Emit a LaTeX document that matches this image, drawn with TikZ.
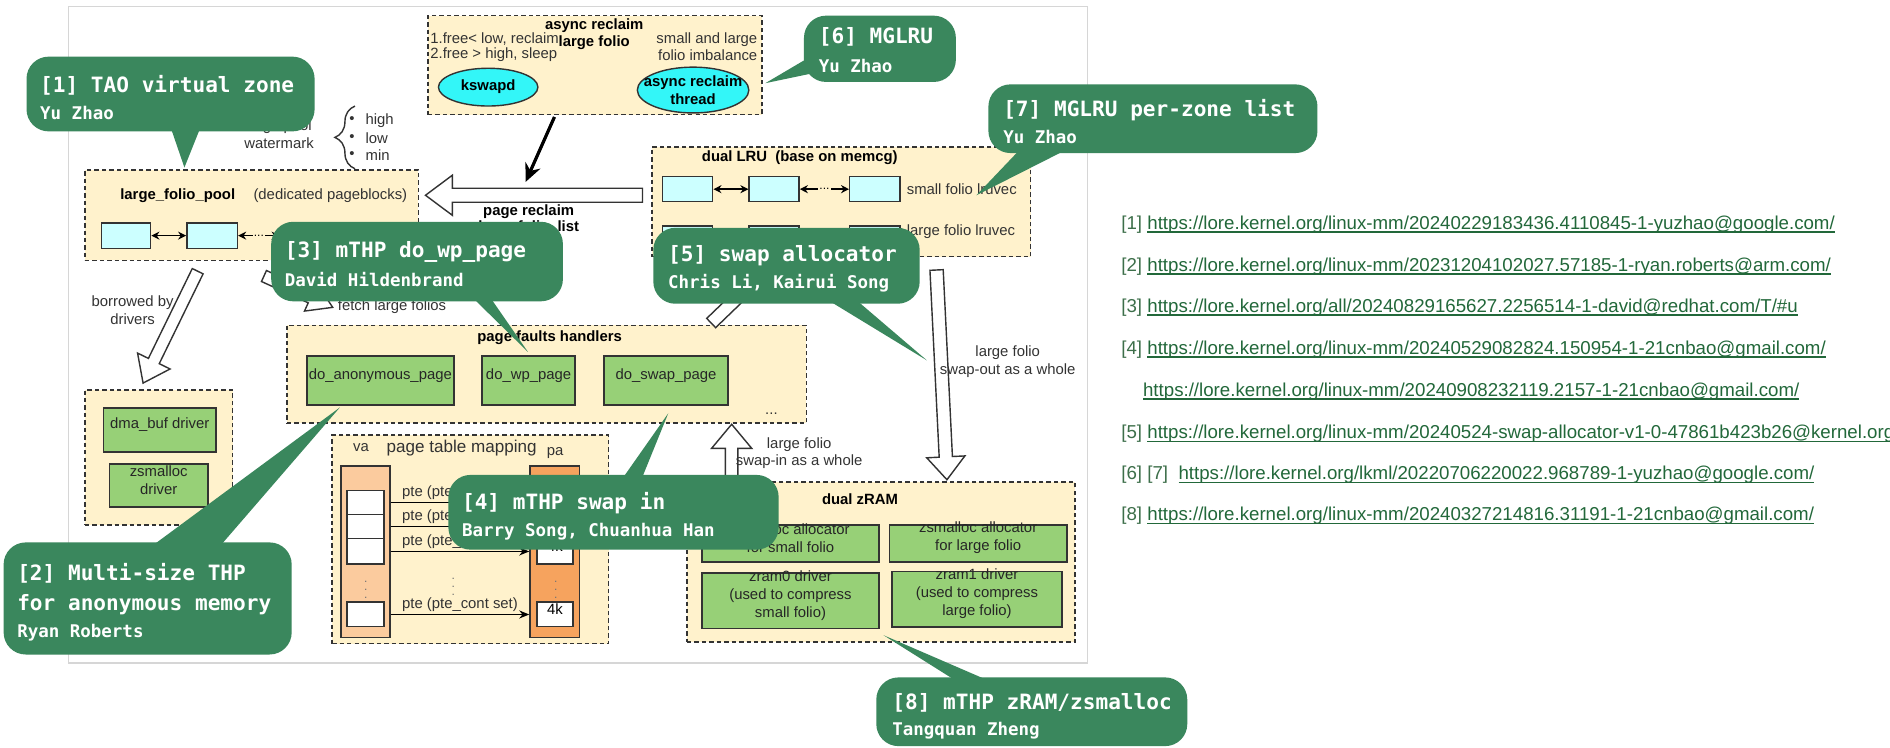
\documentclass[tikz,border=0pt]{standalone}
\usepackage{fontspec}
\setmainfont{Liberation Sans}
\newfontfamily\bubfont{DejaVu Sans Mono}
\newfontfamily\linkfont{Liberation Sans}
\usetikzlibrary{arrows.meta,calc,fit,decorations.pathreplacing,shapes.geometric}

\definecolor{yfill}{HTML}{FFF2CC}
\definecolor{cyanbox}{HTML}{CCFFFF}
\definecolor{ellcyan}{HTML}{33F6F8}
\definecolor{gbox}{HTML}{97D077}
\definecolor{bub}{HTML}{3A875D}
\definecolor{vafill}{HTML}{FBCB9E}
\definecolor{pafill}{HTML}{F6A35E}
\definecolor{linkc}{HTML}{22683A}
\definecolor{refc}{HTML}{3D6F4A}
\definecolor{framec}{HTML}{D6D6D6}
\definecolor{edge}{HTML}{333333}

\newcommand\dfs{\fontsize{7.4}{8.8}\selectfont}
% underlined link text: a rule under the text box
\newcommand\lnk[1]{\setbox0\hbox{#1}\rlap{\rule[-1.8pt]{\wd0}{0.9pt}}\box0}
% hollow block arrow: start, tip, shaft half-width, head half-width, head length
\newcommand\blockarrow[5]{%
  \coordinate (bah) at ($(#2)!#5!(#1)$);
  \draw[hollow] ($(#1)!#3!90:(#2)$) -- ($(bah)!#3!90:(#2)$) -- ($(bah)!#4!90:(#2)$)
    -- (#2) -- ($(bah)!#4!-90:(#2)$) -- ($(bah)!#3!-90:(#2)$) -- ($(#1)!#3!-90:(#2)$) -- cycle;}

\begin{document}
\begin{tikzpicture}[x=0.6pt,y=-0.6pt,
  dbox/.style={draw=edge, dash pattern=on 2.2pt off 1.5pt, line width=0.75pt, fill=yfill, inner sep=0pt},
  cbox/.style={draw=edge, line width=0.7pt, fill=cyanbox, inner sep=0pt},
  gbx/.style={draw=edge, line width=0.8pt, fill=gbox, inner sep=0pt, align=center, font=\dfs, text=black!85},
  txt/.style={inner sep=0pt, font=\dfs, text=black!80},
  btxt/.style={inner sep=0pt, font=\dfs\bfseries},
  ell/.style={ellipse, draw=edge, line width=0.7pt, fill=ellcyan, inner sep=0pt},
  bubble/.style={fill=bub, rounded corners=11pt, inner sep=0pt},
  bubA/.style={inner sep=0pt, anchor=west, text=white, font=\bubfont\bfseries\fontsize{10.5}{12}\selectfont},
  bubB/.style={inner sep=0pt, anchor=west, text=white, font=\bubfont\bfseries\fontsize{8.7}{10}\selectfont},
  link/.style={inner sep=0pt, anchor=west, text=linkc, font=\linkfont\fontsize{9.3}{11}\selectfont},
  biarrow/.style={{Stealth[length=4pt,width=4pt]}-{Stealth[length=4pt,width=4pt]}, line width=0.7pt},
  dots/.style={fill=yfill, inner sep=0.6pt, font=\fontsize{6}{6}\selectfont},
  hollow/.style={draw=edge, fill=white, line width=0.7pt, line join=miter},
  vdot/.style={inner sep=0pt, text=black!55, font=\fontsize{6}{6}\selectfont}]

\useasboundingbox (0,0) rectangle (1568,620);
\fill[white] (0,0) rectangle (1568,620);
\draw[framec, line width=0.6pt] (57,5.5) rectangle (902,550);

% ---------- async reclaim ----------
\node[dbox, fit={(355,13) (632,95)}] (async) {};
\node[btxt] (asyncT) at (493,21.6) {async reclaim};
\node[btxt] (asyncT2) at (493,35.4) {large folio};
\node[txt, anchor=west] (freeA) at (356.7,32.6) {1.free< low, reclaim};
\node[txt, anchor=west] (freeB) at (356.7,45.6) {2.free > high, sleep};
\node[txt, anchor=east] (imbA) at (628.6,32.6) {small and large};
\node[txt, anchor=east] (imbB) at (628.6,45.6) {folio imbalance};
\node[ell, minimum width=49.5pt, minimum height=18.8pt] (kswapd) at (405,72.3) {};
\node[btxt] (kswapdT) at (kswapd) {kswapd};
\node[ell, minimum width=55.5pt, minimum height=22.8pt] (arthread) at (575,74.7) {};
\node[btxt, align=center] (arthreadT) at (arthread) {async reclaim\\thread};

% ---------- large folio pool ----------
\node[txt, align=center] (wmark) at (231.5,111.5) {large pool\\watermark};
\draw[line width=0.7pt, black!80, decorate, decoration={brace, amplitude=10pt}] (294.5,140) -- (294.5,88);
\foreach \t/\yy [count=\i] in {high/100, low/114.5, min/129}{
  \node[txt] (wb\i) at (292,\yy) {•};
  \node[txt, anchor=west] (wl\i) at (303,\yy) {\t};
}
\node[dbox, fit={(70.5,141) (347,216)}] (lfp) {};
\node[btxt, anchor=west] (lfpT) at (99.5,162) {large\_folio\_pool};
\node[txt, anchor=west] (lfpD) at (210,162) {(dedicated pageblocks)};
\node[cbox, fit={(84,185) (125,206)}] (lc1) {};
\node[cbox, fit={(155,185) (197,206)}] (lc2) {};
\coordinate (lc3) at (232,195.5);
\draw[biarrow] (lc1.east) -- (lc2.west);
\draw[biarrow] (lc2.east) -- (lc3) node[midway, dots] {...};

% ---------- page reclaim ----------
\coordinate (prS) at (533,162);
\coordinate (prE) at (353,162);
\blockarrow{prS}{prE}{3.5pt}{10pt}{13.4pt}
\node[btxt] (prT) at (438.6,176) {page reclaim};
\node[btxt] (prT2) at (438.6,189) {large folio\_list};
\coordinate (kA) at (460,97);
\coordinate (kB) at (436,151);
\draw[line width=1.6pt, -{Stealth[length=9pt,width=8pt]}] (kA) -- (kB);

% ---------- dual LRU ----------
\node[dbox, fit={(541,122) (855,213)}] (lru) {};
\node[btxt, anchor=west] (lruT) at (582,131) {dual LRU\ \ (base on memcg)};
\foreach \r/\ya/\yb in {s/146.6/167.3, l/187.5/208}{
  \node[cbox, fit={(549.8,\ya) (591.3,\yb)}] (\r1) {};
  \node[cbox, fit={(621.5,\ya) (663,\yb)}] (\r2) {};
  \node[cbox, fit={(705,\ya) (746.6,\yb)}] (\r3) {};
  \draw[biarrow] (\r1.east) -- (\r2.west);
  \draw[biarrow] (\r2.east) -- (\r3.west) node[midway, dots] {...};
}
\node[txt, anchor=west] (sLab) at (752,157) {small folio lruvec};
\node[txt, anchor=west] (lLab) at (752,192.5) {large folio lruvec};

% ---------- drivers ----------
\coordinate (boS) at (164,225);
\coordinate (boE) at (118.7,317.8);
\blockarrow{boS}{boE}{3pt}{9pt}{12.2pt}
\node[txt, align=center] (boT) at (110,257.5) {borrowed by\\drivers};
\node[dbox, fit={(70.5,323.5) (193,435.6)}] (drv) {};
\node[gbx, fit={(86,338.5) (179,375)}] (dma) {dma\_buf driver};
\node[gbx, fit={(90.7,385) (172.6,420.6)}] (zsd) {zsmalloc\\driver};

% ---------- fetch large folios ----------
\coordinate (fS) at (219,229);
\coordinate (fE) at (276,255);
\blockarrow{fS}{fE}{3pt}{7.5pt}{12pt}
\node[txt, anchor=west] (fT) at (280,254) {fetch large folios};

% ---------- page faults handlers ----------
\node[dbox, fit={(238,270) (669,351)}] (pf) {};
\node[btxt] (pfT) at (456,280) {page faults handlers};
\node[gbx, fit={(254.5,295.6) (376.6,336)}] (anon) {do\_anonymous\_page};
\node[gbx, fit={(400,295.6) (477,336)}] (wp) {do\_wp\_page};
\node[gbx, fit={(501,295.6) (604,336)}] (swp) {do\_swap\_page};
\node[txt] (pfdots) at (640,343) {...};
\coordinate (luS) at (590,268);
\coordinate (luE) at (645,215);
\blockarrow{luS}{luE}{3.2pt}{10pt}{12pt}

% ---------- page table mapping ----------
\node[dbox, fit={(275.6,361) (505,534)}] (ptm) {};
\node[txt] (vaT) at (299.5,371) {va};
\node[txt, font=\fontsize{8.5}{10}\selectfont] (ptmT) at (383,372) {page table mapping};
\node[txt] (paT) at (460.5,376) {pa};
\node[draw=edge, line width=0.7pt, fill=vafill, inner sep=0pt, fit={(283,386.6) (323.5,529)}] (va) {};
\node[draw=edge, line width=0.7pt, fill=pafill, inner sep=0pt, fit={(439.7,386.6) (481,529)}] (pa) {};
\foreach \ya/\yb [count=\i] in {407/427, 427/447, 447/468, 499.6/520}{
  \node[draw=edge, line width=0.7pt, fill=white, inner sep=0pt, fit={(288,\ya) (318.6,\yb)}] (v\i) {};
  \node[draw=edge, line width=0.7pt, fill=white, inner sep=0pt, font=\dfs, fit={(445.5,\ya) (475.5,\yb)}] (p\i) {4k};
  \draw[line width=0.7pt, -{Stealth[length=5pt,width=4pt]}] (v\i.center -| va.east) -- (p\i.center -| pa.west)
    node[midway, above=1.2pt, txt] (pl\i) {pte (pte\_cont set)};
}
\node[vdot] (vdA) at (303.5,484) {$\vdots$};
\node[vdot] (vdB) at (376,482) {$\vdots$};
\node[vdot] (vdC) at (461,484) {$\vdots$};

% ---------- swap in / swap out ----------
\coordinate (siS) at (607,400);
\coordinate (siE) at (607,352);
\blockarrow{siS}{siE}{3.1pt}{10pt}{12pt}
\node[txt, align=center] (siT) at (663,376) {large folio\\swap-in as a whole};
\coordinate (soS) at (777,224);
\coordinate (soE) at (785.6,398);
\blockarrow{soS}{soE}{3.3pt}{9.5pt}{11.4pt}
\node[txt, align=center] (soT) at (836,300) {large folio\\swap-out as a whole};

% ---------- dual zRAM ----------
\node[dbox, fit={(570,400) (892,532.6)}] (zram) {};
\node[btxt] (zramT) at (713.5,414) {dual zRAM};
\node[gbx, fit={(582.6,435.6) (729,466)}] (za) {zsmalloc allocator\\for small folio};
\node[gbx, fit={(738,435.6) (885,466)}] (zb) {zsmalloc allocator\\for large folio};
\node[gbx, fit={(582.6,475.6) (729,521.5)}] (zc) {zram0 driver\\(used to compress\\small folio)};
\node[gbx, fit={(740,474) (881,520)}] (zd) {zram1 driver\\(used to compress\\large folio)};

% ---------- call-out bubbles ----------
\node[bubble, fit={(22,47) (261,109)}] (b1) {};
\coordinate (b1a) at (141,104); \coordinate (b1t) at (153,139); \coordinate (b1b) at (167,104);
\fill[bub] (b1a) -- (b1t) -- (b1b) -- cycle;
\node[bubA] (b1x) at (33,71) {[1] TAO virtual zone};
\node[bubB] (b1y) at (33,93.5) {Yu Zhao};

\node[bubble, fit={(667,13) (793,68)}] (b6) {};
\coordinate (b6a) at (674,46); \coordinate (b6t) at (635,69); \coordinate (b6b) at (678,60);
\fill[bub] (b6a) -- (b6t) -- (b6b) -- cycle;
\node[bubA] (b6x) at (679,31) {[6] MGLRU};
\node[bubB] (b6y) at (679,55) {Yu Zhao};

\node[bubble, fit={(820,70) (1093,127)}] (b7) {};
\coordinate (b7a) at (850,120); \coordinate (b7t) at (810,162); \coordinate (b7b) at (893,120);
\fill[bub] (b7a) -- (b7t) -- (b7b) -- cycle;
\node[bubA] (b7x) at (832,91.5) {[7] MGLRU per-zone list};
\node[bubB] (b7y) at (832,114) {Yu Zhao};

\node[bubble, fit={(225,184) (467,250)}] (b3) {};
\coordinate (b3a) at (385,240); \coordinate (b3t) at (438,292); \coordinate (b3b) at (402,240);
\fill[bub] (b3a) -- (b3t) -- (b3b) -- cycle;
\node[bubA] (b3x) at (236,209) {[3] mTHP do\_wp\_page};
\node[bubB] (b3y) at (236,232) {David Hildenbrand};

\node[bubble, fit={(542,189) (763,252)}] (b5) {};
\coordinate (b5a) at (682,246); \coordinate (b5t) at (769,299); \coordinate (b5b) at (707,246);
\fill[bub] (b5a) -- (b5t) -- (b5b) -- cycle;
\node[bubA] (b5x) at (554,212) {[5] swap allocator};
\node[bubB] (b5y) at (554,235) {Chris Li, Kairui Song};

\node[bubble, fit={(372,394) (646,456)}] (b4) {};
\coordinate (b4a) at (514.3,400); \coordinate (b4t) at (554.4,342.9); \coordinate (b4b) at (531.2,400);
\fill[bub] (b4a) -- (b4t) -- (b4b) -- cycle;
\node[bubA] (b4x) at (383,417.6) {[4] mTHP swap in};
\node[bubB] (b4y) at (383,441) {Barry Song, Chuanhua Han};

\node[bubble, fit={(3,450) (242,543)}] (b2) {};
\coordinate (b2a) at (122,456); \coordinate (b2t) at (282,338); \coordinate (b2b) at (180,456);
\fill[bub] (b2a) -- (b2t) -- (b2b) -- cycle;
\node[bubA] (b2x) at (14,476) {[2] Multi-size THP};
\node[bubA] (b2y) at (14,502) {for anonymous memory};
\node[bubB] (b2z) at (14,525) {Ryan Roberts};

\node[bubble, fit={(727,562) (985,619)}] (b8) {};
\coordinate (b8a) at (796.6,567); \coordinate (b8t) at (733,527); \coordinate (b8b) at (825.5,567);
\fill[bub] (b8a) -- (b8t) -- (b8b) -- cycle;
\node[bubA] (b8x) at (740,583) {[8] mTHP zRAM/zsmalloc};
\node[bubB] (b8y) at (740,606) {Tangquan Zheng};

% ---------- references ----------
\node[link] (r1) at (930,186) {\textcolor{refc}{[1]} \lnk{https://lore.kernel.org/linux-mm/20240229183436.4110845-1-yuzhao@google.com/}};
\node[link] (r2) at (930,221) {\textcolor{refc}{[2]} \lnk{https://lore.kernel.org/linux-mm/20231204102027.57185-1-ryan.roberts@arm.com/}};
\node[link] (r3) at (930,255) {\textcolor{refc}{[3]} \lnk{https://lore.kernel.org/all/20240829165627.2256514-1-david@redhat.com/T/\#u}};
\node[link] (r4) at (930,290) {\textcolor{refc}{[4]} \lnk{https://lore.kernel.org/linux-mm/20240529082824.150954-1-21cnbao@gmail.com/}};
\node[link] (r4b) at (948,325) {\lnk{https://lore.kernel.org/linux-mm/20240908232119.2157-1-21cnbao@gmail.com/}};
\node[link] (r5) at (930,360) {\textcolor{refc}{[5]} \lnk{https://lore.kernel.org/linux-mm/20240524-swap-allocator-v1-0-47861b423b26@kernel.org/}};
\node[link] (r6) at (930,394) {\textcolor{refc}{[6] [7]}\ \ \lnk{https://lore.kernel.org/lkml/20220706220022.968789-1-yuzhao@google.com/}};
\node[link] (r8) at (930,428) {\textcolor{refc}{[8]} \lnk{https://lore.kernel.org/linux-mm/20240327214816.31191-1-21cnbao@gmail.com/}};
\end{tikzpicture}
\end{document}
